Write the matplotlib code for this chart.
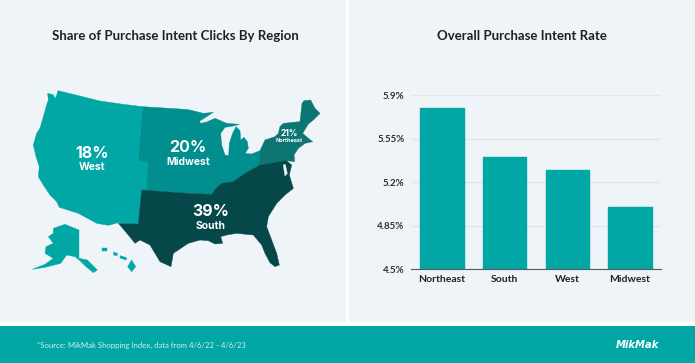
import matplotlib
matplotlib.use("Agg")
import matplotlib.pyplot as plt
from matplotlib.patches import Polygon, Rectangle

plt.rcParams["font.family"] = ["Lato", "DejaVu Sans"]

# bar chart data
regions = ["Northeast", "South", "West", "Midwest"]
rates = [5.8, 5.4, 5.3, 5.0]
tick_values = [4.5, 4.85, 5.2, 5.55, 5.9]
tick_labels = ["4.5%", "4.85%", "5.2%", "5.55%", "5.9%"]

# map outlines at 3x scale (x, y from the map crop)
west = [(143, 70), (160, 74), (165, 86), (170, 76), (174, 62), (240, 78), (300, 93), (370, 103), (428, 110),
        (415, 270), (443, 278), (440, 360), (425, 360), (415, 462), (355, 458), (325, 466), (290, 460),
        (235, 430), (178, 412), (170, 395), (150, 375), (130, 345), (115, 320), (118, 290), (108, 260),
        (100, 225), (110, 190), (120, 175), (130, 140), (140, 105), (145, 90)]
midwest = [(428, 110), (555, 118), (570, 120), (610, 130), (640, 127), (598, 154), (602, 160), (620, 156),
           (645, 145), (680, 160), (718, 163), (700, 168), (675, 172), (662, 190), (665, 225), (675, 255),
           (686, 257), (688, 220), (698, 190), (708, 170), (720, 182), (722, 210), (732, 202), (742, 215),
           (745, 235), (735, 250), (755, 252), (780, 242), (780, 285), (735, 310), (700, 335), (665, 340),
           (648, 355), (635, 373), (562, 370), (425, 360), (440, 360), (443, 278), (415, 270)]
northeast = [(780, 242), (795, 210), (825, 200), (835, 190), (840, 170), (850, 160), (900, 155), (906, 100),
             (912, 92), (932, 90), (945, 115), (960, 130), (940, 150), (925, 162), (908, 190), (925, 205),
             (938, 215), (915, 220), (895, 235), (882, 255), (884, 275), (860, 272), (780, 285)]
south = [(425, 360), (562, 370), (635, 373), (648, 355), (665, 340), (700, 335), (735, 310), (780, 285),
         (860, 272), (875, 285), (868, 315), (880, 355), (855, 375), (830, 400), (805, 440), (800, 470),
         (815, 510), (830, 550), (838, 585), (825, 590), (810, 578), (795, 550), (785, 525), (760, 495),
         (710, 490), (680, 495), (662, 500), (668, 520), (645, 522), (625, 512), (600, 510), (565, 520),
         (520, 550), (513, 590), (480, 575), (462, 545), (450, 525), (420, 510), (405, 520), (385, 495),
         (355, 460), (415, 462)]
alaska = [(160, 475), (195, 463), (237, 480), (237, 565), (262, 570), (292, 600), (280, 608), (258, 590),
          (240, 572), (225, 560), (200, 555), (182, 580), (135, 592), (97, 598), (135, 583), (160, 565),
          (135, 550), (138, 530), (160, 520), (145, 500), (160, 490)]
hawaii = [[(395, 570), (407, 590), (395, 605), (383, 590)],
          [(340, 546), (352, 550), (352, 556), (342, 556)],
          [(360, 557), (380, 563), (378, 570), (360, 564)],
          [(305, 535), (320, 535), (320, 542), (305, 542)]]
bay = [(850, 285), (856, 283), (862, 310), (855, 318), (852, 300)]

panel = "#EFF4F8"
teal = "#00A7A5"

fig = plt.figure(figsize=(6.95, 3.63), dpi=100, facecolor="white")
bg = fig.add_axes([0, 0, 1, 1])
bg.set_xlim(0, 695)
bg.set_ylim(363, 0)
bg.axis("off")

bg.add_patch(Rectangle((0, 0), 345.5, 322, color=panel, lw=0))
bg.add_patch(Rectangle((349, 0), 346, 322, color=panel, lw=0))
bg.add_patch(Rectangle((0, 326), 695, 37, color=teal, lw=0))


def shape(points, color):
    pts = [(x / 3, 70 + y / 3) for x, y in points]
    bg.add_patch(Polygon(pts, closed=True, facecolor=color, edgecolor=color, lw=0.3))


shape(west, teal)
shape(midwest, "#008E8E")
shape(northeast, "#0E7672")
shape(south, "#064849")
shape(alaska, teal)
for island in hawaii:
    shape(island, teal)
shape(bay, panel)

bg.text(175.5, 35.5, "Share of Purchase Intent Clicks By Region", ha="center", va="center",
        fontsize=9.55, fontweight="bold", color="#1C2226")
bg.text(522, 35.5, "Overall Purchase Intent Rate", ha="center", va="center",
        fontsize=9.55, fontweight="bold", color="#1C2226")

labels = [(92, 153, "18%", 11.5, 14.5, "West", 7.5),
          (188, 148, "20%", 11.5, 14, "Midwest", 7.5),
          (211, 212, "39%", 11.5, 14, "South", 7.5),
          (289.5, 133, "21%", 6, 8, "Northeast", 4)]
for x, y, pct, size1, gap, name, size2 in labels:
    bg.text(x, y, pct, ha="center", va="center", color="white", fontsize=size1, fontweight="bold",
            family=["Inter", "DejaVu Sans"])
    bg.text(x, y + gap, name, ha="center", va="center", color="white", fontsize=size2,
            fontweight="bold", family=["Inter", "DejaVu Sans"])

bg.text(37, 345, "*Source: MikMak Shopping Index, data from 4/6/22 - 4/6/23", ha="left", va="center",
        fontsize=5.6, color="#D5EFEE")
bg.text(637.5, 345.5, "MikMak", ha="center", va="center", fontsize=7.2, fontweight="bold", style="italic",
        color="white", family=["Liberation Sans Narrow", "DejaVu Sans"])

ax = fig.add_axes([410.7 / 695, 1 - 269.3 / 363, 250.6 / 695, 174 / 363])
ax.patch.set_alpha(0)
ax.bar(range(len(regions)), rates, width=0.69, color=teal, edgecolor=teal, linewidth=1.0,
       joinstyle="round", zorder=3)
ax.set_xlim(-0.5, 3.5)
ax.set_ylim(4.5, 5.9)
ax.set_yticks(tick_values)
ax.set_yticklabels(tick_labels, fontsize=7, fontweight="bold", color="#2B3033")
ax.set_xticks(range(len(regions)))
ax.set_xticklabels(regions, fontsize=7.5, fontweight="bold", color="#1C2226")
ax.grid(axis="y", color="#E1E6EC", lw=1, zorder=0)
ax.tick_params(length=0)
ax.tick_params(axis="y", pad=4.5)
ax.tick_params(axis="x", pad=4)
for side in ["top", "left", "right"]:
    ax.spines[side].set_visible(False)
ax.spines["bottom"].set_color("#555B5E")
ax.spines["bottom"].set_linewidth(0.8)
ax.spines["bottom"].set_zorder(4)

fig.savefig("out.png", dpi=100)
